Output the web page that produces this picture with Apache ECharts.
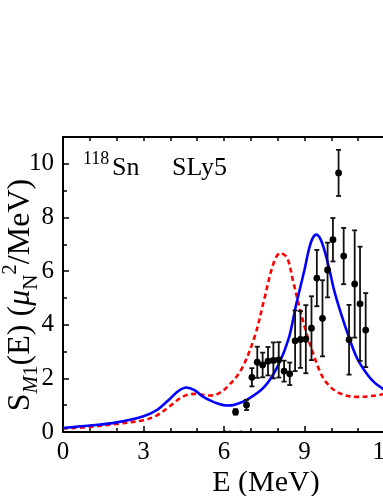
<!DOCTYPE html>
<html><head><meta charset="utf-8">
<script src="https://cdn.jsdelivr.net/npm/echarts@6/dist/echarts.min.js"></script>
<style>html,body{margin:0;padding:0;background:#fff}#c{width:383px;height:496px}</style>
</head><body><div id="c"></div>
<script>
// SLy5 (blue solid) curve
const blueX = [0, 1.0, 2.0, 3.0, 3.5, 4.0, 4.3, 4.6, 4.9, 5.2, 5.5, 5.8, 6.1, 6.4, 6.9, 7.5, 8.0, 8.4, 8.7, 9.0, 9.15, 9.3, 9.45, 9.6, 9.75, 9.95, 10.1, 10.35, 10.65, 10.95, 11.3, 11.6, 12.0];
const blueY = [0.15, 0.24, 0.36, 0.59, 0.82, 1.25, 1.53, 1.66, 1.56, 1.33, 1.17, 1.05, 0.99, 1.02, 1.23, 1.68, 2.45, 3.45, 4.8, 6.05, 6.75, 7.22, 7.36, 7.18, 6.75, 5.96, 5.3, 4.45, 3.55, 2.77, 2.2, 1.85, 1.56];
// red dashed curve
const redX = [0, 1, 2, 3, 3.5, 4.0, 4.5, 4.95, 5.45, 5.75, 6.15, 6.65, 7.15, 7.5, 7.85, 8.1, 8.35, 8.58, 8.85, 9.1, 9.35, 9.6, 9.85, 10.3, 10.95, 11.5, 12];
const redY = [0.13, 0.19, 0.3, 0.44, 0.62, 0.98, 1.34, 1.42, 1.36, 1.41, 1.71, 2.34, 3.58, 4.95, 6.3, 6.67, 6.5, 5.6, 4.5, 3.6, 2.85, 2.2, 1.8, 1.45, 1.31, 1.34, 1.42];
// experimental points
const expX = [6.05, 6.22, 6.63, 6.43, 6.84, 7.04, 7.24, 7.44, 7.64, 7.84, 8.04, 8.24, 8.45, 8.65, 8.85, 9.05, 9.26, 9.46, 9.67, 9.86, 10.06, 10.27, 10.46, 10.66, 10.87, 11.07, 11.28];
const expY = [-0.07, -0.07, -0.07, 0.75, 1.01, 2.04, 2.6, 2.5, 2.64, 2.67, 2.69, 2.27, 2.17, 3.4, 3.45, 3.46, 3.87, 5.74, 4.24, 6.04, 7.17, 9.66, 6.56, 3.44, 5.52, 4.78, 3.8];
const expErr = [0, 0, 0, 0.1, 0.19, 0.34, 0.58, 0.46, 0.53, 0.67, 0.66, 0.39, 0.42, 1.13, 1.06, 1.27, 1.19, 1.05, 1.42, 1.02, 0.81, 0.86, 1.05, 1.3, 2.0, 2.13, 1.38];
const xTickLabels = [0, 3, 6, 9, 12];
const yTickLabels = [0, 2, 4, 6, 8, 10];

const FONT = '"Liberation Serif", "DejaVu Serif", serif';
const chart = echarts.init(document.getElementById('c'), null, {renderer: 'canvas'});
const pair = (xs, ys) => xs.map((x, i) => [x, ys[i]]);
const expData = expX.map((x, i) => [x, expY[i], expErr[i]]);

const axisLineStyle = {color: '#000', width: 2};
const option = {
  animation: false,
  backgroundColor: '#fff',
  grid: {left: 63, top: 137, width: 322, height: 295, containLabel: false, outerBoundsMode: 'none'},
  xAxis: [{
    type: 'value', min: 0, max: 12, interval: 3, position: 'bottom',
    axisLine: {show: true, onZero: false, lineStyle: axisLineStyle},
    axisTick: {show: true, inside: true, length: 6, lineStyle: {color: '#000', width: 1.5}},
    minorTick: {show: true, splitNumber: 3, length: 4, lineStyle: {color: '#000', width: 1.5}},
    splitLine: {show: false},
    axisLabel: {fontFamily: FONT, fontSize: 25, color: '#000', margin: 8, hideOverlap: false,
      formatter: v => xTickLabels.indexOf(v) >= 0 ? String(v) : ''}
  }, {
    type: 'value', min: 0, max: 12, interval: 1, position: 'top',
    axisLine: {show: true, onZero: false, lineStyle: axisLineStyle},
    axisTick: {show: true, inside: true, length: 4, lineStyle: {color: '#000', width: 1.5}},
    splitLine: {show: false}, axisLabel: {show: false}
  }],
  yAxis: [{
    type: 'value', min: 0, max: 11, interval: 2, position: 'left',
    axisLine: {show: true, onZero: false, lineStyle: axisLineStyle},
    axisTick: {show: true, inside: true, length: 6, lineStyle: {color: '#000', width: 1.5}},
    splitLine: {show: false},
    axisLabel: {fontFamily: FONT, fontSize: 25, color: '#000', margin: 9, showMaxLabel: false,
      formatter: v => yTickLabels.indexOf(v) >= 0 ? String(v) : ''}
  }, {
    type: 'value', min: 0, max: 11, interval: 1, position: 'left',
    axisLine: {show: false, onZero: false},
    axisTick: {show: true, inside: true, length: 4, lineStyle: {color: '#000', width: 1.5}},
    splitLine: {show: false}, axisLabel: {show: false}
  }],
  graphic: [
    {type: 'text', x: 21, y: 295, rotation: Math.PI / 2,
      style: {
        text: '{n|S}{si|M}{s|1}{n|(E) (}{mi|μ}{s|N}{p|2}{n|/MeV)}',
        textAlign: 'center', textVerticalAlign: 'middle', fill: '#000',
        rich: {
          n: {fontFamily: FONT, fontSize: 32, lineHeight: 42, verticalAlign: 'middle', fill: '#000'},
          mi: {fontFamily: FONT, fontSize: 32, fontStyle: 'italic', lineHeight: 42, verticalAlign: 'middle', fill: '#000'},
          si: {fontFamily: FONT, fontSize: 21, fontStyle: 'italic', lineHeight: 21, verticalAlign: 'bottom', fill: '#000'},
          s: {fontFamily: FONT, fontSize: 21, lineHeight: 21, verticalAlign: 'bottom', fill: '#000'},
          p: {fontFamily: FONT, fontSize: 21, lineHeight: 21, verticalAlign: 'top', fill: '#000'}
        }
      }},
    {type: 'text', x: 266, y: 483,
      style: {text: 'E (MeV)', fontFamily: FONT, fontSize: 30, fill: '#000', textAlign: 'center', textVerticalAlign: 'middle'}},
    {type: 'text', x: 83, y: 159,
      style: {text: '118', fontFamily: FONT, fontSize: 18, fill: '#000', textAlign: 'left', textVerticalAlign: 'middle'}},
    {type: 'text', x: 112, y: 168,
      style: {text: 'Sn', fontFamily: FONT, fontSize: 26, fill: '#000', textAlign: 'left', textVerticalAlign: 'middle'}},
    {type: 'text', x: 172, y: 168,
      style: {text: 'SLy5', fontFamily: FONT, fontSize: 26, fill: '#000', textAlign: 'left', textVerticalAlign: 'middle'}}
  ],
  series: [
    {type: 'line', data: pair(redX, redY), smooth: 0.35, symbol: 'none', z: 3,
      lineStyle: {color: '#ff0000', width: 2.6, type: [5, 3.5]}},
    {type: 'line', data: pair(blueX, blueY), smooth: 0.35, symbol: 'none', z: 4,
      lineStyle: {color: '#0000ff', width: 2.6}},
    {type: 'custom', data: expData, z: 5, clip: true,
      renderItem: function (params, api) {
        const x = api.value(0), y = api.value(1), e = api.value(2);
        const c = api.coord([x, y]);
        const children = [];
        const st = {stroke: '#111', lineWidth: 1.8};
        if (e > 0) {
          const t = api.coord([x, y + e]), b = api.coord([x, y - e]);
          children.push({type: 'line', shape: {x1: c[0], y1: t[1], x2: c[0], y2: b[1]}, style: st});
          children.push({type: 'line', shape: {x1: c[0] - 2.5, y1: t[1], x2: c[0] + 2.5, y2: t[1]}, style: st});
          children.push({type: 'line', shape: {x1: c[0] - 2.5, y1: b[1], x2: c[0] + 2.5, y2: b[1]}, style: st});
        }
        children.push({type: 'circle', shape: {cx: c[0], cy: c[1], r: 3.4}, style: {fill: '#000'}});
        return {type: 'group', children: children};
      }}
  ]
};
chart.setOption(option);
</script>
</body></html>
